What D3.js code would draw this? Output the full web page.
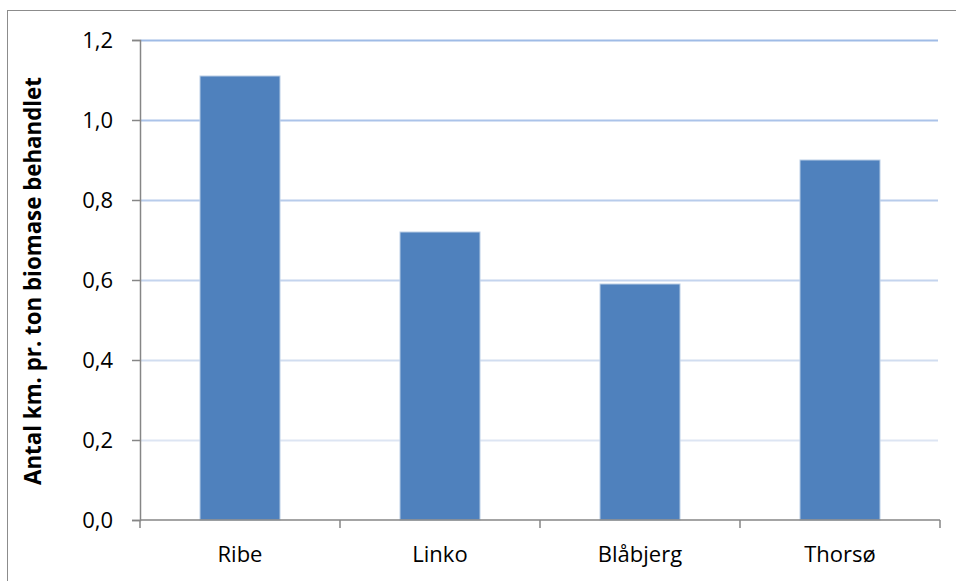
<!DOCTYPE html>
<html>
<head>
<meta charset="utf-8">
<script src="https://cdn.jsdelivr.net/npm/d3@7"></script>
<style>
  html, body { margin: 0; padding: 0; background: #fff; }
  svg { display: block; }
  text { font-family: "Open Sans", Lato, "Noto Sans", sans-serif; fill: #000; }
</style>
</head>
<body>
<svg id="chart" width="956" height="581"></svg>
<script>
// Kilometres driven per tonne of biomass treated, per plant
const plants = ["Ribe", "Linko", "Blåbjerg", "Thorsø"];
const kmPerTon = [1.11, 0.72, 0.59, 0.90];
const yTicks = [0, 0.2, 0.4, 0.6, 0.8, 1.0, 1.2];
const yTitle = "Antal km. pr. ton biomase behandlet";

const svg = d3.select("#chart");
const plot = { left: 140, right: 940, top: 40, bottom: 520 };

// Chart-area frame (extends past the right and bottom edges)
svg.append("rect")
  .attr("x", 7.5).attr("y", 10.5)
  .attr("width", 1000).attr("height", 1000)
  .attr("fill", "none").attr("stroke", "#8c8c8c").attr("stroke-width", 1);

const x = d3.scaleBand()
  .domain(plants)
  .range([plot.left, plot.right])
  .paddingInner(0.6)
  .paddingOuter(0.3);

const y = d3.scaleLinear()
  .domain([0, 1.2])
  .range([plot.bottom, plot.top]);

// Gridlines fade from blue at the top to pale near the baseline
const gridColor = d3.scaleLinear()
  .domain([0.2, 1.2])
  .range(["#dde5f3", "#9fbbe6"]);

svg.append("g")
  .selectAll("line")
  .data(yTicks.filter(d => d > 0))
  .join("line")
  .attr("x1", plot.left).attr("x2", plot.right - 2)
  .attr("y1", d => Math.round(y(d)) + 0.5)
  .attr("y2", d => Math.round(y(d)) + 0.5)
  .attr("stroke", d => gridColor(d))
  .attr("stroke-width", 2);

// Bars
svg.append("g")
  .selectAll("rect")
  .data(plants.map((p, i) => ({ p, v: kmPerTon[i] })))
  .join("rect")
  .attr("x", d => x(d.p))
  .attr("y", d => y(d.v))
  .attr("width", x.bandwidth())
  .attr("height", d => y(0) - y(d.v))
  .attr("fill", "#4f81bd")
  .attr("stroke", "#b9cde5")
  .attr("stroke-width", 1);

// Y axis
const yAxis = svg.append("g")
  .attr("transform", `translate(${plot.left},0)`)
  .call(d3.axisLeft(y)
    .tickValues(yTicks)
    .tickSize(8)
    .tickPadding(19)
    .tickFormat(d => d3.format(".1f")(d).replace(".", ",")));
yAxis.select(".domain").attr("stroke", "#868686").attr("stroke-width", 1.5);
yAxis.selectAll(".tick line").attr("stroke", "#868686").attr("stroke-width", 1.5);
yAxis.selectAll(".tick text").attr("font-size", 22).attr("fill", "#000")
  .attr("font-family", "'Open Sans', Lato, sans-serif");

// X axis: ticks at category boundaries
const boundaries = d3.range(plants.length + 1).map(i => plot.left + i * x.step());
const xg = svg.append("g");
xg.append("line")
  .attr("x1", plot.left).attr("x2", plot.right)
  .attr("y1", plot.bottom).attr("y2", plot.bottom)
  .attr("stroke", "#868686").attr("stroke-width", 1.5);
xg.selectAll("line.tick")
  .data(boundaries)
  .join("line")
  .attr("class", "tick")
  .attr("x1", d => d).attr("x2", d => d)
  .attr("y1", plot.bottom).attr("y2", plot.bottom + 8)
  .attr("stroke", "#868686").attr("stroke-width", 1.5);
xg.selectAll("text")
  .data(plants)
  .join("text")
  .attr("x", d => x(d) + x.bandwidth() / 2)
  .attr("y", 562)
  .attr("text-anchor", "middle")
  .attr("font-size", 22)
  .text(d => d);

// Y axis title, sized to span the same height as in the layout
const title = svg.append("text")
  .attr("transform", `translate(41,${(plot.top + plot.bottom) / 2 + 1}) rotate(-90)`)
  .attr("text-anchor", "middle")
  .attr("font-size", 20)
  .attr("font-weight", "bold")
  .text(yTitle);
const natural = title.node().getComputedTextLength();
title.attr("font-size", Math.min(24, 20 * 408 / natural));
</script>
</body>
</html>
